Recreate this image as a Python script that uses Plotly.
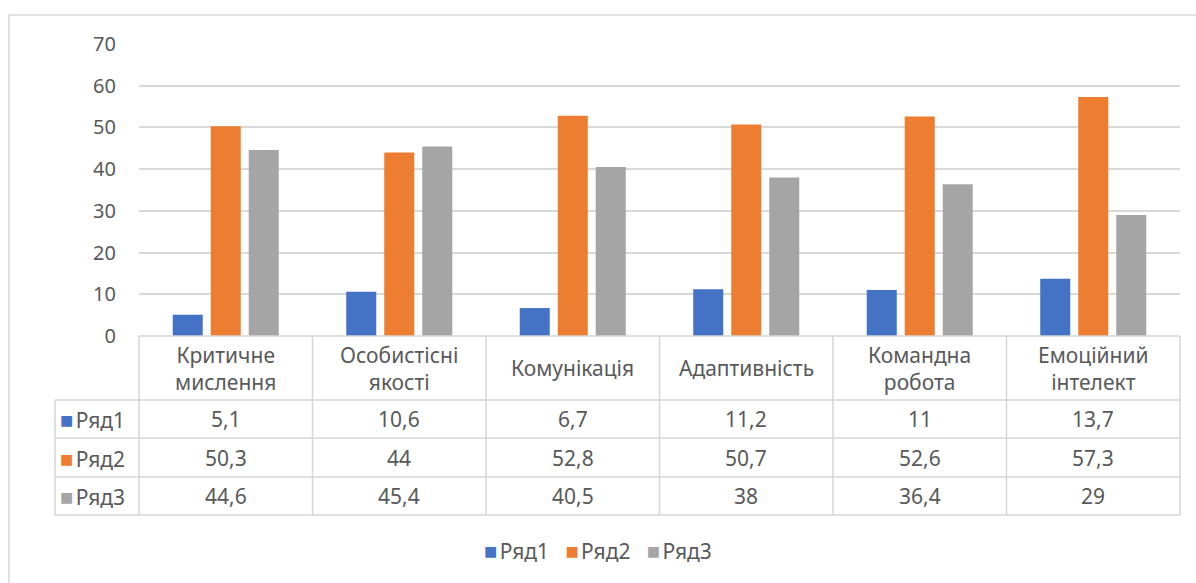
import plotly.graph_objects as go

# Data
categories = ["Критичне<br>мислення", "Особистісні<br>якості", "Комунікація",
              "Адаптивність", "Командна<br>робота", "Емоційний<br>інтелект"]
series_names = ["Ряд1", "Ряд2", "Ряд3"]
ryad1 = [5.1, 10.6, 6.7, 11.2, 11, 13.7]
ryad2 = [50.3, 44, 52.8, 50.7, 52.6, 57.3]
ryad3 = [44.6, 45.4, 40.5, 38, 36.4, 29]
colors = ["#4472C4", "#ED7D31", "#A5A5A5"]
y_ticks = [0, 10, 20, 30, 40, 50, 60, 70]

W, H = 1196, 583
L, R, T, B = 139, 16, 44, 247
pw, ph = W - L - R, H - T - B

FONT = "Noto Sans"
FS = 21
TXT = "#595959"
GRID = "#D9D9D9"


def px(x):
    return (x - L) / pw


def py(y):
    return (H - B - y) / ph


def fmt(v):
    return ("%g" % v).replace(".", ",")


def swatch(c):
    return (f"<span style='color:{c};font-size:22px'>■</span>"
            f"<span style='font-size:9px'>&nbsp;</span>")


fig = go.Figure()
for name, vals, c in zip(series_names, [ryad1, ryad2, ryad3], colors):
    fig.add_trace(go.Bar(x=list(range(len(categories))), y=vals, name=name,
                         showlegend=False,
                         marker=dict(color=c, line=dict(width=0))))

shapes = []
annotations = []

# outer chart frame
shapes.append(dict(type="rect", xref="paper", yref="paper",
                   x0=px(9), x1=px(1205), y0=py(15), y1=py(600),
                   line=dict(color=GRID, width=1.5), layer="below"))

# data table grid
row_y = [336, 400, 438, 477, 515]
tbl_left, hdr_right, tbl_right = 55, 139, 1180
col_w = (tbl_right - hdr_right) / len(categories)
line_style = dict(color="#D6D6D6", width=1.5)
shapes.append(dict(type="line", xref="paper", yref="paper",
                   x0=px(hdr_right), x1=px(tbl_right), y0=py(row_y[0]), y1=py(row_y[0]),
                   line=line_style))
for ry in row_y[1:]:
    shapes.append(dict(type="line", xref="paper", yref="paper",
                       x0=px(tbl_left), x1=px(tbl_right), y0=py(ry), y1=py(ry),
                       line=line_style))
shapes.append(dict(type="line", xref="paper", yref="paper",
                   x0=px(tbl_left), x1=px(tbl_left), y0=py(row_y[1]), y1=py(row_y[-1]),
                   line=line_style))
for i in range(len(categories) + 1):
    xx = hdr_right + i * col_w
    shapes.append(dict(type="line", xref="paper", yref="paper",
                       x0=px(xx), x1=px(xx), y0=py(row_y[0]), y1=py(row_y[-1]),
                       line=line_style))

# category header row
for i, cat in enumerate(categories):
    cx = hdr_right + (i + 0.5) * col_w
    annotations.append(dict(xref="paper", yref="paper", x=px(cx),
                            y=py((row_y[0] + row_y[1]) / 2), text=cat,
                            showarrow=False, xanchor="center", yanchor="middle",
                            font=dict(family=FONT, size=FS, color=TXT)))

# value rows
for r, (name, vals, c) in enumerate(zip(series_names, [ryad1, ryad2, ryad3], colors)):
    cy = (row_y[r + 1] + row_y[r + 2]) / 2
    annotations.append(dict(xref="paper", yref="paper", x=px(tbl_left + 3),
                            y=py(cy), showarrow=False, xanchor="left", yanchor="middle",
                            text=f"{swatch(c)}{name}",
                            font=dict(family=FONT, size=FS, color=TXT)))
    for i, v in enumerate(vals):
        cx = hdr_right + (i + 0.5) * col_w
        annotations.append(dict(xref="paper", yref="paper", x=px(cx), y=py(cy),
                                text=fmt(v), showarrow=False,
                                xanchor="center", yanchor="middle",
                                font=dict(family=FONT, size=FS, color=TXT)))

# legend row under the table
legend_text = "&nbsp;&nbsp;&nbsp;".join(f"{swatch(c)}{n}" for n, c in zip(series_names, colors))
annotations.append(dict(xref="paper", yref="paper", x=px(598), y=py(550),
                        text=legend_text, showarrow=False,
                        xanchor="center", yanchor="middle",
                        font=dict(family=FONT, size=FS, color=TXT)))

fig.update_layout(
    width=W, height=H,
    margin=dict(l=L, r=R, t=T, b=B, autoexpand=False),
    paper_bgcolor="white", plot_bgcolor="white",
    barmode="group", bargap=0.343, bargroupgap=0.21,
    showlegend=False,
    font=dict(family=FONT, size=FS, color=TXT),
    xaxis=dict(range=[-0.5, len(categories) - 0.5], showticklabels=False,
               showgrid=False, zeroline=False, showline=False, fixedrange=True),
    yaxis=dict(range=[0, 70], tickvals=y_ticks, showgrid=True, gridcolor=GRID,
               gridwidth=1.5, zeroline=False, showline=False,
               ticklabelstandoff=22, tickfont=dict(family=FONT, size=20, color=TXT)),
    shapes=shapes, annotations=annotations,
)

fig.write_html("out.html")
